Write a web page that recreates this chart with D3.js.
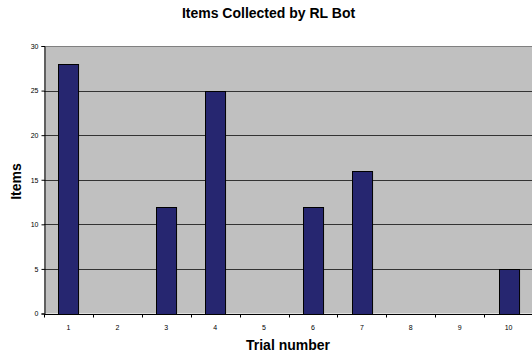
<!DOCTYPE html>
<html>
<head>
<meta charset="utf-8">
<script src="https://cdn.jsdelivr.net/npm/d3@7"></script>
<style>
  body { margin: 0; background: #fff; }
  text { font-family: Arial, "Liberation Sans", sans-serif; }
</style>
</head>
<body>
<div id="chart"></div>
<script>
const trials = ["1", "2", "3", "4", "5", "6", "7", "8", "9", "10"];
const items = [28, 0, 12, 25, 0, 12, 16, 0, 0, 5];
const yTicks = [0, 5, 10, 15, 20, 25, 30];

const width = 532, height = 353;
const margin = {top: 46, left: 44};
const plotW = 489;

const svg = d3.select("#chart")
    .append("svg")
    .attr("width", width)
    .attr("height", height);

const x = d3.scaleBand()
    .domain(trials)
    .range([margin.left, margin.left + plotW])
    .paddingInner(0.59)
    .paddingOuter(0.295);

const y = d3.scaleLinear()
    .domain([0, 30])
    .range([313.5, margin.top]);

// plot area
svg.append("rect")
    .attr("x", margin.left)
    .attr("y", y(30))
    .attr("width", plotW)
    .attr("height", y(0) - y(30))
    .attr("fill", "#c0c0c0");

// gridlines
svg.selectAll(".grid")
    .data(yTicks.filter(d => d > 0))
    .enter()
    .append("line")
    .attr("x1", margin.left).attr("x2", margin.left + plotW)
    .attr("y1", d => Math.round(y(d)) + 0.5).attr("y2", d => Math.round(y(d)) + 0.5)
    .attr("stroke", d => d === 30 ? "#808080" : "#333")
    .attr("stroke-width", 1);

// bars
svg.selectAll(".bar")
    .data(items)
    .enter()
    .append("rect")
    .attr("x", (d, i) => Math.round(x(trials[i])) + 0.5)
    .attr("y", d => Math.round(y(d)) + 0.5)
    .attr("width", x.bandwidth())
    .attr("height", d => Math.max(0, Math.round(y(0)) - Math.round(y(d))))
    .attr("fill", "#262670")
    .attr("stroke", "#000")
    .attr("stroke-width", 1)
    .style("display", d => d > 0 ? null : "none");

// y axis
const yAxis = svg.append("g")
    .attr("transform", `translate(${margin.left + 0.5},0)`)
    .call(d3.axisLeft(y).tickValues(yTicks).tickSize(3).tickPadding(3));
yAxis.select(".domain").attr("stroke", "#000");
yAxis.selectAll("text").attr("font-size", "7px").attr("fill", "#000")
    .attr("font-family", "Arial, 'Liberation Sans', sans-serif");

// x axis
const xAxis = svg.append("g")
    .attr("transform", `translate(0,${Math.round(y(0)) + 0.5})`);
xAxis.append("line")
    .attr("x1", margin.left).attr("x2", margin.left + plotW)
    .attr("stroke", "#000");
xAxis.selectAll(".xtick")
    .data(d3.range(trials.length + 1))
    .enter()
    .append("line")
    .attr("x1", i => Math.round(margin.left + i * x.step()) + 0.5)
    .attr("x2", i => Math.round(margin.left + i * x.step()) + 0.5)
    .attr("y1", 0).attr("y2", 3)
    .attr("stroke", "#000");
xAxis.selectAll(".xlabel")
    .data(trials)
    .enter()
    .append("text")
    .attr("x", d => x(d) + x.bandwidth() / 2)
    .attr("y", 15)
    .attr("text-anchor", "middle")
    .attr("font-size", "7px")
    .attr("fill", "#000")
    .text(d => d);

// titles
svg.append("text")
    .attr("x", 268.5).attr("y", 18)
    .attr("text-anchor", "middle")
    .attr("font-size", "14px")
    .attr("font-weight", "bold")
    .text("Items Collected by RL Bot");

svg.append("text")
    .attr("x", 288).attr("y", 350)
    .attr("text-anchor", "middle")
    .attr("font-size", "14px")
    .attr("font-weight", "bold")
    .text("Trial number");

svg.append("text")
    .attr("transform", "translate(21,181.5) rotate(-90)")
    .attr("text-anchor", "middle")
    .attr("font-size", "14px")
    .attr("font-weight", "bold")
    .text("Items");
</script>
</body>
</html>
